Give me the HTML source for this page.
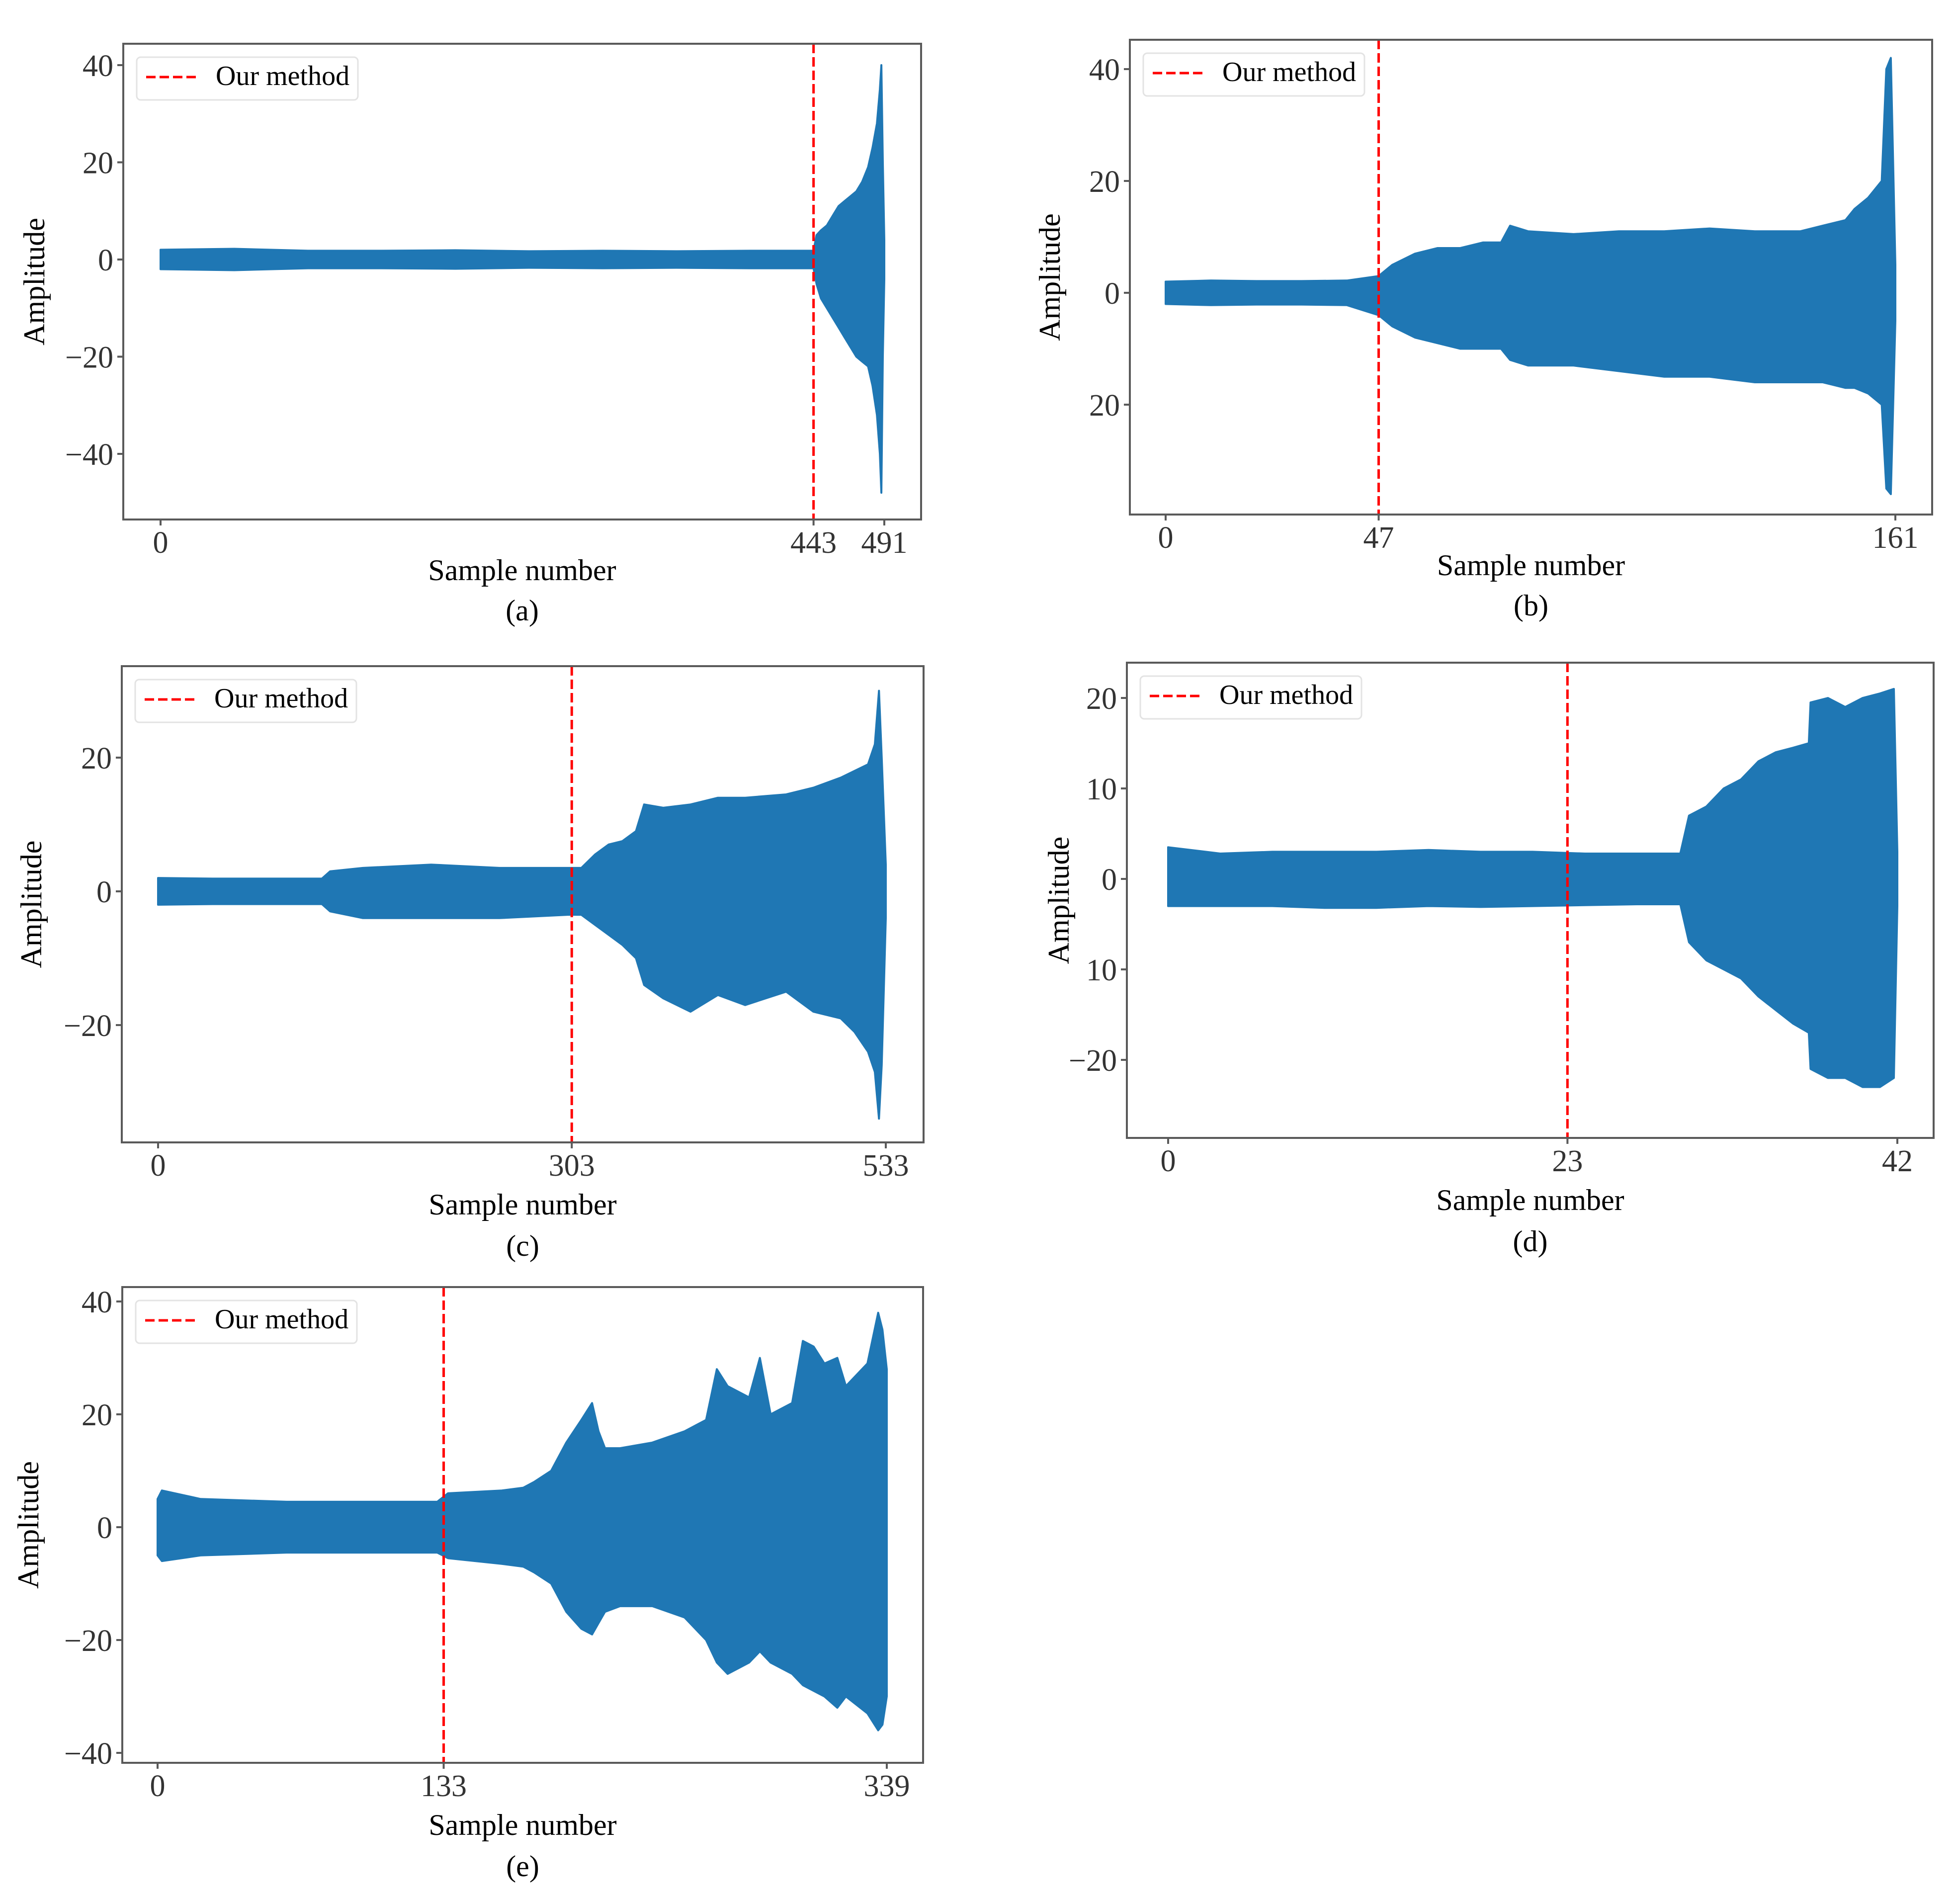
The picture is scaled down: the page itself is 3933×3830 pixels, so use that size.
<!DOCTYPE html>
<html><head><meta charset="utf-8">
<style>
html,body{margin:0;padding:0;background:#fff;}
svg{display:block;}
text{font-family:"Liberation Serif",serif;}
</style></head>
<body>
<svg id="fig" width="3933" height="3830" viewBox="0 0 3933 3830" xmlns="http://www.w3.org/2000/svg"></svg>
<script>
// ---- data ----
const aX  = [0,50,100,150,200,250,300,350,400,443,445,448,452,456,460,464,468,472,476,480,483,486,488,489,490,491];
const aUp = [2,2.2,1.8,1.8,1.9,1.7,1.8,1.7,1.8,1.8,5,6,7,9,11,12,13,14,16,19,23,28,35,40,20,4];
const aLo = [-2,-2.2,-1.8,-1.8,-1.9,-1.7,-1.8,-1.7,-1.8,-1.8,-5,-8,-10,-12,-14,-16,-18,-20,-21,-22,-26,-32,-40,-48,-20,-4];

const bX  = [0,10,20,30,40,47,50,55,60,65,70,74,76,80,90,100,110,120,130,140,145,150,152,155,158,159,160,161];
const bUp = [2,2.2,2.1,2.1,2.2,3,5,7,8,8,9,9,12,11,10.5,11,11,11.5,11,11,12,13,15,17,20,40,42,5];
const bLo = [-2,-2.2,-2.1,-2.1,-2.2,-4,-6,-8,-9,-10,-10,-10,-12,-13,-13,-14,-15,-15,-16,-16,-16,-17,-17,-18,-20,-35,-36,-5];

const cX  = [0,40,80,120,126,150,200,250,300,310,320,330,340,350,356,370,390,410,430,460,480,500,510,520,525,528,530,533];
const cUp = [2,1.9,1.9,1.9,3,3.5,4,3.5,3.5,3.5,5.5,7,7.5,9,13,12.5,13,14,14,14.5,15.5,17,18,19,22,30,20,4];
const cLo = [-2,-1.9,-1.9,-1.9,-3,-4,-4,-4,-3.5,-3.5,-5,-6.5,-8,-10,-14,-16,-18,-15.5,-17,-15,-18,-19,-21,-24,-27,-34,-26,-4];

const dX  = [0,3,6,9,12,15,18,21,24,27,29.5,30,31,32,33,34,35,36,36.9,37,38,39,40,41,41.8,42];
const dUp = [3.5,2.8,3,3,3,3.2,3,3,2.8,2.8,2.8,7,8,10,11,13,14,14.5,15,19.5,20,19,20,20.5,21,3];
const dLo = [-3,-3,-3,-3.2,-3.2,-3,-3.1,-3,-2.9,-2.8,-2.8,-7,-9,-10,-11,-13,-14.5,-16,-17,-21,-22,-22,-23,-23,-22,-3];

const eX  = [0,2,20,60,100,130,135,160,170,175,183,190,197,202,205,208,215,230,245,255,260,265,275,280,285,295,300,305,310,316,320,330,335,337,339];
const eUp = [5,6.5,5,4.5,4.5,4.5,6,6.5,7,8,10,15,19,22,17,14,14,15,17,19,28,25,23,30,20,22,33,32,29,30,25,29,38,35,28];
const eLo = [-5,-6,-5,-4.5,-4.5,-4.5,-5.5,-6.5,-7,-8,-10,-15,-18,-19,-17,-15,-14,-14,-16,-20,-24,-26,-24,-22,-24,-26,-28,-29,-30,-32,-30,-33,-36,-35,-30];

const aXTicks=[0,443,491], bXTicks=[0,47,161], cXTicks=[0,303,533], dXTicks=[0,23,42], eXTicks=[0,133,339];
const aYTicks=[40,20,0,-20,-40], aYLabels=["40","20","0","\u221220","\u221240"];
const bYTicks=[40,20,0,-20], bYLabels=["40","20","0","20"];
const cYTicks=[20,0,-20], cYLabels=["20","0","\u221220"];
const dYTicks=[20,10,0,-10,-20], dYLabels=["20","10","0","10","\u221220"];
const eYTicks=[40,20,0,-20,-40], eYLabels=["40","20","0","\u221220","\u221240"];
const markers=[443,47,303,23,133];
const captions=["(a)","(b)","(c)","(d)","(e)"];

// ---- layout ----
const layout=[
 {id:'a',L:248,R:1853,T:88,B:1045,px0:323,pxN:1779,xN:491,py0:522,ppu:9.775,ylx:69,xlo:122,cpo:203},
 {id:'b',L:2273,R:3887,T:80,B:1035,px0:2345,pxN:3813,xN:161,py0:589,ppu:11.25,ylx:2112,xlo:122,cpo:203},
 {id:'c',L:245,R:1858,T:1340,B:2298,px0:318,pxN:1782,xN:533,py0:1793,ppu:13.45,ylx:63,xlo:145,cpo:228},
 {id:'d',L:2267,R:3890,T:1333,B:2289,px0:2350,pxN:3817,xN:42,py0:1768,ppu:18.2,ylx:2130,xlo:145,cpo:228},
 {id:'e',L:246,R:1857,T:2589,B:3546,px0:317,pxN:1784,xN:339,py0:3072,ppu:11.35,ylx:57,xlo:145,cpo:228}
];
const series=[[aX,aUp,aLo],[bX,bUp,bLo],[cX,cUp,cLo],[dX,dUp,dLo],[eX,eUp,eLo]];
const xt=[aXTicks,bXTicks,cXTicks,dXTicks,eXTicks];
const yt=[aYTicks,bYTicks,cYTicks,dYTicks,eYTicks];
const yl=[aYLabels,bYLabels,cYLabels,dYLabels,eYLabels];

const NS='http://www.w3.org/2000/svg';
const svg=document.getElementById('fig');
function mk(tag,attrs,parent){const e=document.createElementNS(NS,tag);for(const k in attrs)e.setAttribute(k,attrs[k]);(parent||svg).appendChild(e);return e;}

layout.forEach((p,i)=>{
  const sx=v=>p.px0+(p.pxN-p.px0)*v/p.xN;
  const sy=v=>p.py0-v*p.ppu;
  const g=mk('g',{});
  
  
  const [X,U,Lo]=series[i];
  let pts=[];
  for(let k=0;k<X.length;k++)pts.push(sx(X[k]).toFixed(1)+','+sy(U[k]).toFixed(1));
  for(let k=X.length-1;k>=0;k--)pts.push(sx(X[k]).toFixed(1)+','+sy(Lo[k]).toFixed(1));
  const sig=mk('polygon',{points:pts.join(' '),fill:'#1f77b4',stroke:'#1f77b4','stroke-width':4,'stroke-linejoin':'round'},g);
  
  
  const mx=sx(markers[i]);
  const ml=mk('line',{x1:mx,x2:mx,y1:p.T,y2:p.B,stroke:'#ff0000','stroke-width':5,'stroke-dasharray':'19,8'},g);
  
  
  const fr=mk('rect',{x:p.L,y:p.T,width:p.R-p.L,height:p.B-p.T,fill:'none',stroke:'#5a5a5a','stroke-width':4},g);
  
  
  xt[i].forEach(v=>{
    const x=sx(v);
    const t=mk('line',{x1:x,x2:x,y1:p.B,y2:p.B+12,stroke:'#5a5a5a','stroke-width':4},g);
    
    
    const tx=mk('text',{x:x,y:p.B+67,'text-anchor':'middle','font-size':62,fill:'#333'},g);
    tx.textContent=String(v);
    
    
  });
  yt[i].forEach((v,k)=>{
    const y=sy(v);
    const t=mk('line',{x1:p.L-12,x2:p.L,y1:y,y2:y,stroke:'#5a5a5a','stroke-width':4},g);
    
    
    const tx=mk('text',{x:p.L-20,y:y+22,'text-anchor':'end','font-size':62,fill:'#333'},g);
    tx.textContent=yl[i][k];
    
    
  });
  const cx=(p.L+p.R)/2;
  const xl=mk('text',{x:cx,y:p.B+p.xlo,'text-anchor':'middle','font-size':60,fill:'#000'},g);
  xl.textContent='Sample number';
  
  
  const cap=mk('text',{x:cx,y:p.B+p.cpo,'text-anchor':'middle','font-size':60,fill:'#000'},g);
  cap.textContent=captions[i];
  
  
  const ycy=(p.T+p.B)/2;
  const ylab=mk('text',{x:p.ylx+20,y:ycy,'text-anchor':'middle','font-size':60,fill:'#000',transform:`rotate(-90 ${p.ylx+20} ${ycy})`},g);
  ylab.textContent='Amplitude';
  
  
  const lg=mk('g',{},g);
  
  
  const lb=mk('rect',{x:p.L+27,y:p.T+27,width:445,height:86,rx:8,fill:'#fff','fill-opacity':0.8,stroke:'#e3e3e3','stroke-width':3},lg);
  
  
  const ll=mk('line',{x1:p.L+46,x2:p.L+152,y1:p.T+67,y2:p.T+67,stroke:'#ff0000','stroke-width':5,'stroke-dasharray':'19,8'},lg);
  
  
  const lt=mk('text',{x:p.L+186,y:p.T+83,'font-size':56,fill:'#000'},lg);
  lt.textContent='Our method';
  
  
});
</script>
</body></html>
